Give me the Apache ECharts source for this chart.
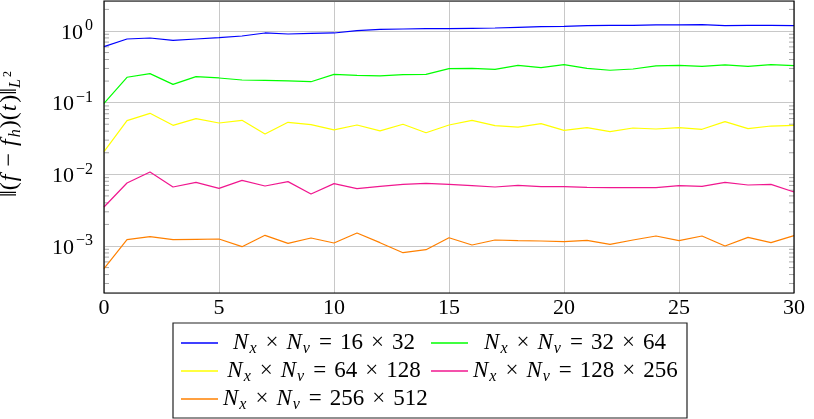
<!DOCTYPE html>
<html lang="en">
<head>
  <meta charset="UTF-8">
  <title>L2 error over time</title>
  <style>
    html, body { margin: 0; padding: 0; width: 100%; height: 100%; background: #fff; }
    #main { width: 814px; height: 419px; }
  </style>
</head>
<body>
  <div id="main"></div>
  <script src="https://cdn.jsdelivr.net/npm/echarts@6/dist/echarts.min.js"></script>
  <script type="text/javascript">
    // time steps (x axis)
    const times = [0, 1, 2, 3, 4, 5, 6, 7, 8, 9, 10, 11, 12, 13, 14, 15,
      16, 17, 18, 19, 20, 21, 22, 23, 24, 25, 26, 27, 28, 29, 30];

    // grid sizes N_x x N_v, one per series
    const gridSizes = ['16 × 32', '32 × 64', '64 × 128', '128 × 256', '256 × 512'];
    const colors = ['#0000ff', '#00ff00', '#ffff00', '#f0178f', '#ff8000'];

    // ||(f - f_h)(t)||_L2
    const err16x32 = [0.604, 0.773, 0.798, 0.741, 0.773, 0.807, 0.851, 0.938, 0.908, 0.928,
      0.938, 1.01, 1.055, 1.066, 1.078, 1.078, 1.09, 1.10, 1.125, 1.149,
      1.16, 1.186, 1.2, 1.2, 1.213, 1.213, 1.225, 1.186, 1.2, 1.2, 1.186];
    const err32x64 = [0.098, 0.226, 0.254, 0.180, 0.231, 0.221, 0.207, 0.205, 0.201, 0.196,
      0.248, 0.241, 0.236, 0.246, 0.248, 0.298, 0.301, 0.292, 0.332, 0.308,
      0.339, 0.301, 0.283, 0.295, 0.325, 0.332, 0.321, 0.336, 0.321, 0.339, 0.328];
    const err64x128 = [0.0207, 0.0561, 0.0710, 0.0483, 0.0598, 0.0520, 0.0567, 0.0366, 0.0532, 0.0493,
      0.0416, 0.0488, 0.0403, 0.0499, 0.0381, 0.0488, 0.0567, 0.0478, 0.0457, 0.0509,
      0.0411, 0.0448, 0.0394, 0.0443, 0.0429, 0.0448, 0.0425, 0.0543, 0.0434, 0.0472, 0.0483];
    const err128x256 = [0.00350, 0.00757, 0.01079, 0.00666, 0.00773, 0.00638, 0.00825, 0.00688, 0.00791, 0.00532,
      0.00741, 0.00631, 0.00681, 0.00725, 0.00749, 0.00725, 0.00695, 0.00666, 0.00703, 0.00673,
      0.00673, 0.00659, 0.00652, 0.00652, 0.00652, 0.00695, 0.00681, 0.00773, 0.00710, 0.00725, 0.00567];
    const err256x512 = [0.000483, 0.001225, 0.001349, 0.001225, 0.001239, 0.001253, 0.000979, 0.001409, 0.001089, 0.001293,
      0.001101, 0.001518, 0.001113, 0.000807, 0.000889, 0.001306, 0.001033, 0.001213, 0.001187, 0.001174,
      0.001149, 0.001200, 0.001055, 0.001213, 0.001379, 0.001187, 0.001379, 0.001000, 0.001321, 0.001113, 0.001394];
    const errors = [err16x32, err32x64, err64x128, err128x256, err256x512];

    // axis range and minor log ticks
    const xMin = 0, xMax = 30, xStep = 5;
    const yMin = 2.21e-4, yMax = 2.62;
    const minorTicks = [3e-4, 4e-4, 5e-4, 6e-4, 7e-4, 8e-4, 9e-4,
      2e-3, 3e-3, 4e-3, 5e-3, 6e-3, 7e-3, 8e-3, 9e-3,
      2e-2, 3e-2, 4e-2, 5e-2, 6e-2, 7e-2, 8e-2, 9e-2,
      0.2, 0.3, 0.4, 0.5, 0.6, 0.7, 0.8, 0.9, 2];

    const serif = 'Liberation Serif';
    const FS = 23, SUB = 16;

    // plot box, legend box
    const plot = { left: 104, top: 1, width: 690, height: 292 };
    const legendBox = { x: 173, y: 323, w: 514, h: 95 };
    // [icon left, row centre y, text centre x]
    const legendPos = [[181, 342, 324], [431, 342, 575], [181, 370, 324], [431, 370, 575], [181, 398, 324]];

    function tok(size, italic, pad) {
      return { fontFamily: serif, fontSize: size, fontStyle: italic ? 'italic' : 'normal',
        lineHeight: 26, color: '#000', padding: pad || [0, 0, 0, 0] };
    }
    const rich = {
      r: tok(FS, false),
      i: tok(FS, true),
      op: tok(FS, false, [0, 8, 0, 8]),
      s: tok(SUB, true, [12, 1, 0, 1]),
      b: tok(22, false, [4, 0, 0, 0]),
      e: tok(SUB, false, [0, 0, 10, 2]),
      // y axis name
      nr: tok(24, false),
      ni: tok(24, true, [0, 2, 0, 1]),
      nop: tok(24, false, [0, 6, 0, 6]),
      ns: tok(16, true, [12, 1, 0, 0]),
      nss: tok(12, false, [0, 0, 4, 1])
    };

    const ctx = document.createElement('canvas').getContext('2d');
    function tokenWidth(key, text) {
      const st = rich[key];
      ctx.font = st.fontStyle + ' ' + st.fontSize + 'px ' + serif;
      return ctx.measureText(text).width + st.padding[1] + st.padding[3];
    }
    function legendTokens(name) {
      const [a, b] = name.split(' × ');
      return [['i', 'N'], ['s', 'x'], ['op', '×'], ['i', 'N'], ['s', 'v'], ['op', '='],
        ['r', a], ['op', '×'], ['r', b]];
    }
    function toRich(tokens) {
      return tokens.map(t => '{' + t[0] + '|' + t[1] + '}').join('');
    }

    const series = gridSizes.map((name, k) => ({
      name: name,
      type: 'line',
      symbol: 'none',
      color: colors[k],
      lineStyle: { width: 1.2, color: colors[k] },
      data: times.map((t, j) => [t, errors[k][j]]),
      z: 4
    }));

    series.push({
      type: 'custom',
      silent: true,
      z: 3,
      data: minorTicks.map(v => [xMin, v]),
      renderItem: function (params, api) {
        const v = api.value(1);
        const l = api.coord([xMin, v]);
        const r = api.coord([xMax, v]);
        const st = { stroke: '#a8a8a8', lineWidth: 1 };
        return {
          type: 'group',
          children: [
            { type: 'line', shape: { x1: l[0], y1: l[1], x2: l[0] + 5, y2: l[1] }, style: st },
            { type: 'line', shape: { x1: r[0] - 5, y1: r[1], x2: r[0], y2: r[1] }, style: st }
          ]
        };
      }
    });

    const legends = gridSizes.map((name, k) => {
      const tokens = legendTokens(name);
      const w = tokens.reduce((s, t) => s + tokenWidth(t[0], t[1]), 0);
      const [iconLeft, rowY, textCx] = legendPos[k];
      const pad = Math.max(0, textCx - w / 2 - (iconLeft + 37 + 5));
      return {
        data: [name],
        left: iconLeft,
        top: rowY - 13,
        padding: 0,
        itemWidth: 37,
        itemHeight: 1.4,
        icon: 'rect',
        selectedMode: false,
        formatter: () => toRich(tokens),
        textStyle: { padding: [0, 0, 0, pad], rich: rich }
      };
    });

    const option = {
      animation: false,
      backgroundColor: '#fff',
      grid: {
        left: plot.left, top: plot.top, width: plot.width, height: plot.height,
        containLabel: false, outerBoundsMode: 'none'
      },
      legend: legends,
      xAxis: {
        type: 'value',
        min: xMin,
        max: xMax,
        interval: xStep,
        axisLine: { show: false },
        axisTick: { show: false },
        splitLine: { show: true, lineStyle: { color: '#c8c8c8', width: 1 } },
        axisLabel: { margin: 4, color: '#000', fontFamily: serif, fontSize: 22 }
      },
      yAxis: {
        type: 'log',
        logBase: 10,
        min: yMin,
        max: yMax,
        axisLine: { show: false },
        axisTick: { show: false },
        splitLine: { show: true, lineStyle: { color: '#c8c8c8', width: 1 } },
        axisLabel: {
          margin: 11,
          showMinLabel: false,
          showMaxLabel: false,
          formatter: function (v) {
            const lg = Math.log10(v);
            const e = Math.round(lg);
            if (Math.abs(lg - e) > 1e-6) return '';
            return '{b|10}{e|' + (e < 0 ? '−' + (-e) : e) + '}';
          },
          rich: rich
        },
        name: '{nr|‖(}{ni|f}{nop|−}{ni|f}{ns|h}{nr|)(}{ni|t}{nr|)‖}{ns|L}{nss|2}',
        nameLocation: 'middle',
        nameRotate: 90,
        nameGap: 81,
        nameTextStyle: { padding: [0, 0, 0, 26], rich: rich }
      },
      graphic: [
        {
          type: 'rect', z: 100, silent: true,
          shape: { x: plot.left, y: plot.top, width: plot.width, height: plot.height },
          style: { fill: 'none', stroke: '#000', lineWidth: 1.2 }
        },
        {
          type: 'rect', z: 100, silent: true,
          shape: { x: legendBox.x, y: legendBox.y, width: legendBox.w, height: legendBox.h },
          style: { fill: 'none', stroke: '#222', lineWidth: 1.2 }
        }
      ],
      series: series
    };

    const myChart = echarts.init(document.getElementById('main'));
    myChart.setOption(option);
  </script>
</body>
</html>
